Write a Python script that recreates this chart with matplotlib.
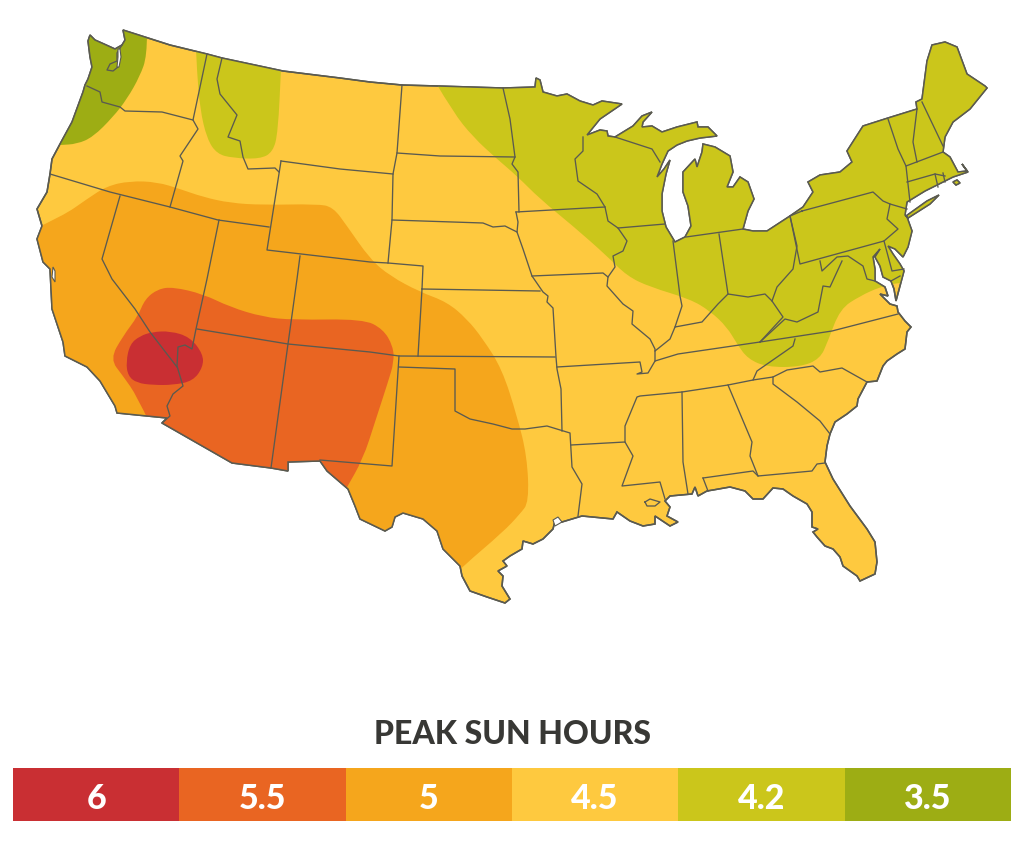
import matplotlib
matplotlib.use('Agg')
import matplotlib.pyplot as plt
from matplotlib.patches import PathPatch, Polygon
from matplotlib.path import Path

# legend
hours = ['6', '5.5', '5', '4.5', '4.2', '3.5']
colors = ['#C92F33', '#E96522', '#F5A61C', '#FEC93F', '#CBC61B', '#9DAD14']
line_color = '#5a5a50'

# all map shapes are traced in image pixels
outline = [
    (90, 36), (95, 41), (104, 45), (115, 50), (122, 46), (125, 41), (123, 31),
    (170, 46), (207, 55), (222, 59), (283, 72), (340, 79), (370, 83), (402, 86), (438, 87),
    (503, 89), (535, 88), (536, 79), (540, 81), (543, 93), (557, 97), (567, 95), (580, 102),
    (593, 106), (602, 102), (622, 105), (600, 120), (587, 136), (600, 131), (607, 132),
    (608, 137), (615, 138), (633, 127), (642, 117), (652, 113), (643, 123), (642, 128),
    (652, 127), (662, 133), (677, 128), (697, 123), (698, 128), (708, 128), (717, 137),
    (700, 139), (687, 142), (677, 146), (668, 152), (662, 165), (657, 178), (664, 170),
    (670, 161), (666, 175), (662, 195), (662, 212), (666, 228), (675, 243), (685, 238),
    (691, 227), (688, 207), (683, 193), (683, 173), (695, 160), (697, 168), (702, 153),
    (703, 145), (715, 148), (730, 157), (733, 173), (727, 188), (733, 188), (740, 178),
    (748, 183), (754, 200), (748, 212), (743, 230), (753, 232), (767, 232), (790, 217),
    (803, 208), (813, 193), (808, 183), (820, 176), (840, 173), (852, 163), (847, 152),
    (863, 127), (888, 119), (917, 110), (916, 103), (922, 100), (927, 62), (932, 46),
    (945, 43), (957, 48), (967, 75), (985, 87), (987, 89), (970, 110), (953, 123),
    (945, 138), (943, 153), (950, 158), (958, 173), (967, 172), (962, 165), (968, 173),
    (953, 178), (943, 183), (925, 192), (907, 203), (905, 216), (907, 218), (912, 232),
    (908, 248), (903, 258), (895, 250), (888, 247), (893, 255), (900, 265), (904, 272),
    (900, 287), (896, 302), (894, 290), (891, 282), (883, 278), (880, 267), (875, 258),
    (880, 250), (873, 258), (875, 270), (875, 282), (885, 288), (888, 297), (880, 295),
    (890, 305), (897, 307), (898, 313), (905, 322), (911, 328), (907, 333), (905, 350),
    (897, 355), (887, 362), (883, 367), (877, 382), (867, 383), (858, 400), (857, 407),
    (847, 415), (835, 423), (830, 435), (827, 447), (825, 463), (833, 480), (850, 507),
    (867, 530), (875, 543), (877, 563), (875, 575), (860, 582), (857, 577), (843, 567),
    (840, 558), (833, 550), (825, 547), (817, 538), (813, 533), (818, 530), (812, 528),
    (812, 513), (807, 505), (793, 497), (783, 490), (773, 489), (763, 500), (753, 500),
    (745, 492), (730, 488), (713, 491), (707, 492), (698, 497), (695, 488), (692, 495),
    (670, 497), (665, 502), (670, 508), (667, 517), (678, 523), (670, 527), (655, 517),
    (655, 525), (643, 527), (630, 522), (617, 513), (613, 520), (582, 517), (562, 523),
    (555, 522), (553, 530), (543, 540), (533, 545), (523, 542), (522, 550), (510, 557),
    (503, 562), (507, 567), (498, 572), (503, 577), (502, 587), (510, 600), (505, 604),
    (487, 598), (470, 592), (462, 577), (460, 567), (443, 550), (437, 532), (423, 520),
    (403, 514), (395, 518), (392, 528), (385, 532), (360, 520), (355, 507), (348, 490),
    (327, 472), (320, 462), (288, 463), (288, 472), (271, 469), (232, 464), (162, 424),
    (167, 419), (117, 414), (115, 407), (100, 382), (87, 368), (65, 357), (63, 343),
    (52, 310), (50, 270), (43, 263), (37, 240), (42, 227), (37, 210), (47, 193), (50, 175),
    (52, 160), (60, 145), (72, 123), (83, 93), (85, 86), (88, 80), (92, 68), (90, 58), (88, 42),
]
long_island = [(906, 217), (927, 202), (939, 196), (930, 205), (908, 219)]
vineyard = [(953, 183), (957, 181), (960, 184), (956, 186)]
water = [
    [(118, 50), (120, 50), (121, 58), (119, 68), (117, 68), (118, 58)],
    [(53, 268), (55, 272), (55, 283), (52, 278)],
    [(553, 521), (558, 518), (562, 523), (555, 527)],
]

state_lines = [
    [(87, 87), (100, 93), (102, 103), (120, 108), (125, 112), (162, 113), (193, 121)],
    [(122, 46), (117, 54), (117, 62), (110, 65), (107, 71), (113, 72), (118, 68)],
    [(207, 55), (193, 121), (198, 130), (180, 157), (183, 162), (170, 208)],
    [(50, 175), (110, 193), (170, 208), (218, 221), (269, 228)],
    [(222, 59), (217, 80), (220, 95), (237, 116), (228, 138), (240, 142), (243, 158), (248, 170),
     (275, 169), (279, 173)],
    [(281, 162), (340, 170), (393, 175)],
    [(281, 162), (267, 251), (370, 263), (388, 264), (423, 267), (422, 290)],
    [(402, 86), (397, 154), (393, 175), (392, 221), (388, 264)],
    [(397, 154), (440, 157), (515, 158)],
    [(503, 89), (510, 120), (515, 158), (512, 165), (518, 173), (519, 213)],
    [(392, 221), (483, 224), (493, 228), (505, 227), (517, 233)],
    [(516, 213), (518, 223), (517, 233), (523, 250), (532, 277), (543, 293), (548, 297), (547, 303),
     (553, 309), (556, 358), (557, 370), (561, 390), (562, 432)],
    [(516, 213), (605, 208)],
    [(583, 138), (583, 152), (575, 160), (578, 182), (597, 195), (605, 208), (608, 222), (618, 229),
     (627, 242), (623, 252), (613, 257), (615, 268), (608, 278), (607, 287), (623, 305), (633, 312),
     (632, 325), (650, 340), (655, 350), (655, 362)],
    [(618, 229), (665, 225)],
    [(615, 138), (652, 150), (660, 163)],
    [(422, 290), (540, 292)],
    [(532, 277), (603, 274), (608, 278)],
    [(197, 330), (288, 345), (370, 353), (399, 357), (555, 358)],
    [(422, 290), (418, 357)],
    [(300, 257), (297, 280), (288, 345), (271, 469)],
    [(219, 221), (207, 280), (196, 330), (192, 350), (185, 346), (178, 348), (177, 367), (183, 387),
     (173, 395), (167, 407), (170, 417), (162, 424)],
    [(120, 197), (102, 260), (112, 280), (135, 310), (150, 333), (177, 368)],
    [(557, 368), (640, 363), (642, 373), (637, 375), (648, 374), (655, 362), (678, 355), (760, 343),
     (832, 332), (898, 315)],
    [(399, 357), (392, 467), (320, 461)],
    [(399, 368), (455, 370), (455, 412), (470, 420), (493, 425), (512, 430), (525, 430), (547, 427),
     (570, 434), (572, 468), (582, 485), (578, 517)],
    [(571, 446), (625, 443), (633, 457), (622, 487), (660, 483), (665, 500)],
    [(625, 443), (625, 427), (637, 398), (640, 397), (682, 393), (728, 386), (753, 381), (773, 378),
     (787, 371), (813, 367), (820, 373), (842, 369), (867, 383)],
    [(795, 340), (793, 347), (757, 372), (753, 381)],
    [(773, 378), (773, 385), (797, 403), (820, 422), (830, 435)],
    [(728, 386), (752, 443), (750, 457), (758, 477), (812, 472), (817, 465), (825, 464)],
    [(703, 479), (753, 472), (758, 477)],
    [(703, 479), (708, 492)],
    [(682, 393), (683, 463), (688, 495)],
    [(655, 352), (670, 340), (675, 328), (702, 323), (718, 305), (728, 295), (748, 298), (765, 295),
     (772, 302), (783, 318), (760, 343)],
    [(673, 242), (680, 297), (682, 307), (675, 328)],
    [(719, 235), (728, 295)],
    [(686, 238), (743, 230)],
    [(772, 302), (777, 288), (793, 270), (797, 247), (790, 217)],
    [(802, 212), (873, 193), (883, 202), (890, 205), (887, 220), (898, 230), (884, 242), (800, 265),
     (790, 217), (802, 212)],
    [(890, 205), (907, 210)],
    [(888, 120), (898, 150), (906, 167), (910, 203)],
    [(917, 110), (913, 143), (917, 163)],
    [(922, 103), (943, 147)],
    [(906, 167), (943, 153)],
    [(907, 183), (935, 175), (945, 177)],
    [(935, 175), (938, 188)],
    [(943, 174), (945, 183)],
    [(820, 262), (822, 272), (837, 258), (848, 257), (863, 267), (867, 280), (875, 282)],
    [(842, 262), (830, 288), (823, 287), (818, 313), (797, 323), (785, 320), (760, 343)],
    [(884, 242), (892, 272), (904, 270)],
    [(891, 282), (900, 277)],
    [(645, 503), (650, 500), (660, 503), (655, 507), (647, 507), (645, 503)],
]

# zone edges: the curve first, then straight points outside the coast
zone_35 = [(147, 34), (147, 57), (140, 77), (127, 100), (113, 118), (93, 138), (77, 145), (60, 146)]
zone_35_out = [(30, 147), (30, 20), (147, 20)]
zone_42w = [(196, 50), (197, 73), (200, 110), (207, 140), (217, 155), (233, 159), (260, 160),
            (273, 153), (278, 133), (281, 70)]
zone_42w_out = [(281, 30), (196, 30)]
zone_42e = [(436, 84), (453, 113), (473, 138), (497, 160), (517, 177), (540, 200), (573, 227),
            (607, 257), (627, 277), (650, 288), (690, 300), (710, 312), (727, 328), (737, 345),
            (748, 360), (767, 368), (800, 368), (820, 360), (828, 342), (840, 310), (860, 297),
            (880, 288), (896, 284), (915, 283)]
zone_42e_out = [(1015, 283), (1015, 20), (436, 20)]
zone_5 = [(30, 232), (63, 217), (87, 200), (107, 187), (130, 182), (157, 183), (180, 190), (203, 198),
          (230, 204), (263, 206), (317, 205), (333, 208), (347, 227), (370, 260), (390, 277), (420, 293),
          (447, 303), (467, 320), (483, 340), (502, 370), (517, 417), (527, 457), (529, 503),
          (520, 515), (503, 533), (462, 568), (440, 590)]
zone_5_out = [(400, 640), (20, 640)]
zone_55 = [(150, 425), (137, 397), (123, 377), (110, 360), (123, 337), (138, 317), (145, 300),
           (158, 290), (173, 288), (203, 295), (230, 308), (263, 318), (293, 321), (363, 320),
           (383, 330), (393, 347), (394, 363), (388, 383), (375, 423), (363, 460), (346, 490)]
zone_55_out = [(340, 510), (150, 510)]
zone_6 = [(152, 333), (170, 332), (190, 338), (203, 355), (203, 368), (193, 382), (173, 386),
          (153, 386), (137, 384), (128, 377), (126, 363), (130, 345), (140, 337)]


def zone_path(edge, outer):
    verts = [edge[0]]
    codes = [Path.MOVETO]
    for p, q in zip(edge[1:-1], edge[2:]):
        verts += [p, ((p[0] + q[0]) / 2, (p[1] + q[1]) / 2)]
        codes += [Path.CURVE3, Path.CURVE3]
    verts.append(edge[-1])
    codes.append(Path.LINETO)
    for p in outer:
        verts.append(p)
        codes.append(Path.LINETO)
    verts.append(edge[0])
    codes.append(Path.CLOSEPOLY)
    return Path(verts, codes)


def round_path(points):
    start = ((points[-1][0] + points[0][0]) / 2, (points[-1][1] + points[0][1]) / 2)
    verts = [start]
    codes = [Path.MOVETO]
    for i, p in enumerate(points):
        q = points[(i + 1) % len(points)]
        verts += [p, ((p[0] + q[0]) / 2, (p[1] + q[1]) / 2)]
        codes += [Path.CURVE3, Path.CURVE3]
    return Path(verts, codes)


fig = plt.figure(figsize=(10.24, 8.53), dpi=100)
ax = fig.add_axes([0, 0, 1, 1])
ax.set_xlim(0, 1024)
ax.set_ylim(853, 0)
ax.axis('off')

land = Path.make_compound_path(
    Path(outline + [outline[0]], closed=True),
    Path(long_island + [long_island[0]], closed=True),
    Path(vineyard + [vineyard[0]], closed=True),
)
base = PathPatch(land, facecolor=colors[3], edgecolor=line_color, lw=1.1, zorder=1)
ax.add_patch(base)

zones = [
    (zone_path(zone_5, zone_5_out), colors[2]),
    (zone_path(zone_55, zone_55_out), colors[1]),
    (round_path(zone_6), colors[0]),
    (zone_path(zone_42w, zone_42w_out), colors[4]),
    (zone_path(zone_42e, zone_42e_out), colors[4]),
    (zone_path(zone_35, zone_35_out), colors[5]),
]
for path, color in zones:
    patch = PathPatch(path, facecolor=color, edgecolor='none', zorder=2)
    ax.add_patch(patch)
    patch.set_clip_path(base)

for line in state_lines:
    ax.plot([p[0] for p in line], [p[1] for p in line], color=line_color, lw=0.95, zorder=3,
            solid_joinstyle='round')

# coast again on top of the zones
ax.add_patch(PathPatch(land, facecolor='none', edgecolor=line_color, lw=1.1, zorder=4))
for shape in water:
    ax.add_patch(Polygon(shape, closed=True, facecolor='white', edgecolor=line_color, lw=0.8, zorder=4))

ax.text(512, 735, 'PEAK SUN HOURS', ha='center', va='center', family='Lato', weight=900,
        fontsize=23, color='#383835')

# legend strip
leg = fig.add_axes([13 / 1024, 1 - 822 / 853, 998 / 1024, 53 / 853])
leg.bar(range(len(hours)), [1] * len(hours), width=1, align='edge', color=colors)
leg.set_xlim(0, len(hours))
leg.set_ylim(0, 1)
leg.axis('off')
for i, label in enumerate(hours):
    leg.text(i + 0.5, 0.44, label, ha='center', va='center', family='Lato', weight=900,
             fontsize=24.5, color='white')

fig.savefig('out.png', dpi=100, facecolor='white')
